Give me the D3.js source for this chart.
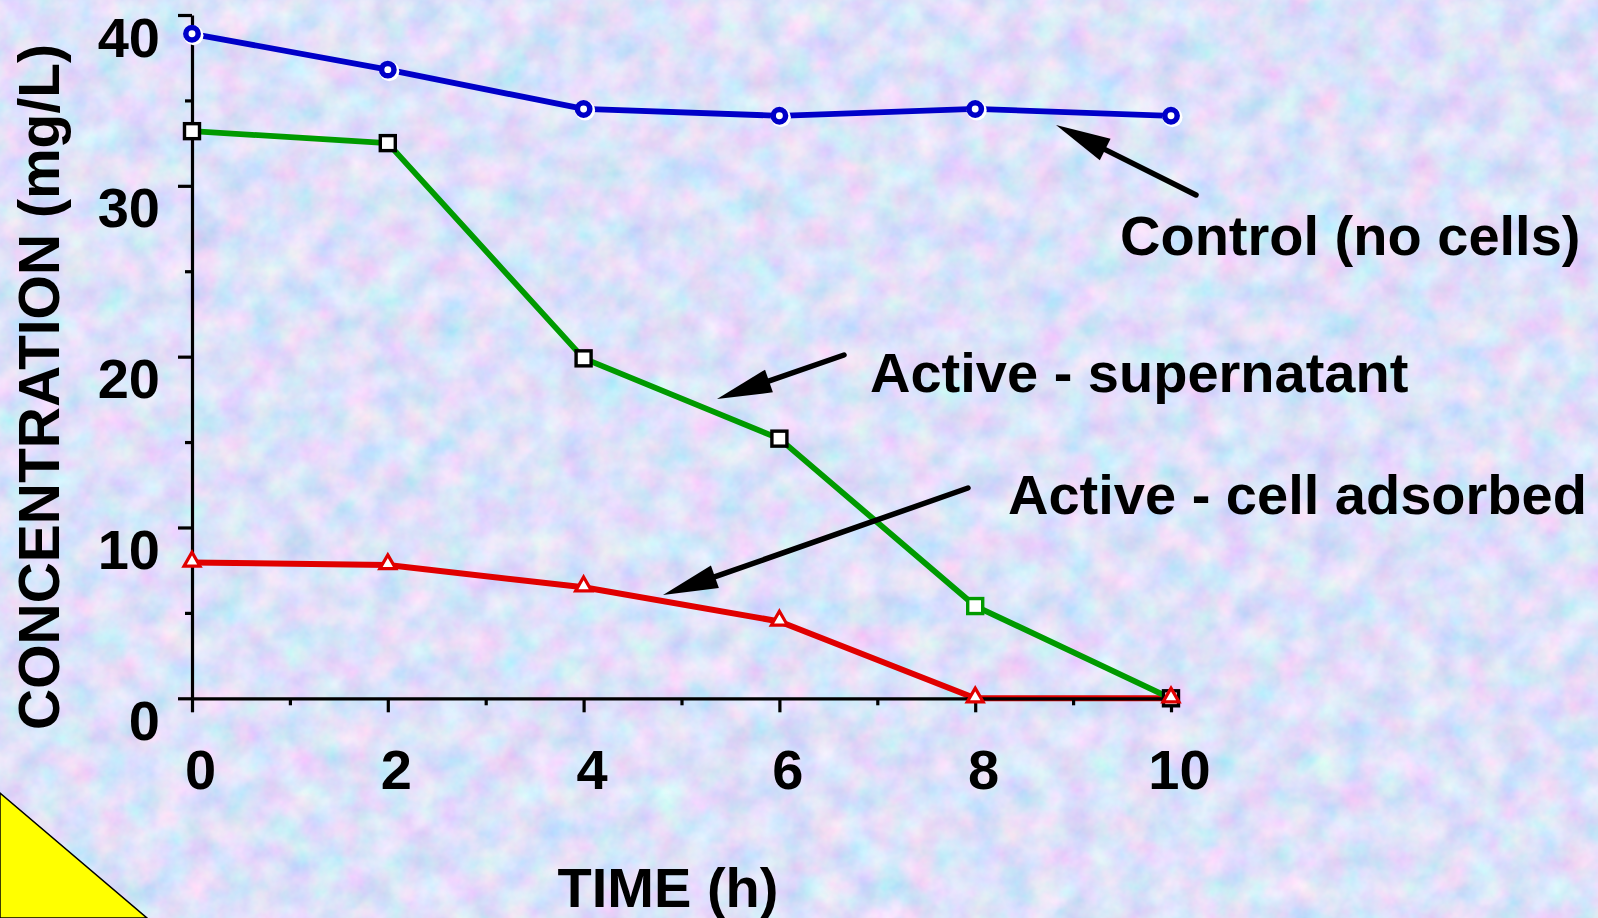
<!DOCTYPE html>
<html>
<head>
<meta charset="utf-8">
<script src="https://cdn.jsdelivr.net/npm/d3@7"></script>
<style>
  html, body { margin: 0; padding: 0; overflow: hidden; }
  svg text { font-family: "Liberation Sans", Arial, sans-serif; font-weight: bold; fill: #000; }
</style>
</head>
<body>
<svg id="chart" width="1598" height="918"></svg>
<script>
// Data
var times = [0, 2, 4, 6, 8, 10];
var control = [38.9, 36.8, 34.5, 34.1, 34.5, 34.1];
var supernatant = [33.2, 32.5, 19.9, 15.2, 5.4, 0];
var adsorbed = [7.95, 7.8, 6.5, 4.5, 0, 0];

var xMajor = [0, 2, 4, 6, 8, 10];
var xMinor = [1, 3, 5, 7, 9];
var yMajor = [0, 10, 20, 30, 40];
var yMinor = [5, 15, 25, 35];

var labels = ["Control (no cells)", "Active - supernatant", "Active - cell adsorbed"];

var svg = d3.select("#chart");

// Background texture
var defs = svg.append("defs");
var tex = defs.append("filter").attr("id", "tex")
    .attr("x", 0).attr("y", 0).attr("width", "100%").attr("height", "100%");
tex.append("feTurbulence")
    .attr("type", "fractalNoise")
    .attr("baseFrequency", 0.032)
    .attr("numOctaves", 4)
    .attr("seed", 7);
tex.append("feColorMatrix")
    .attr("type", "matrix")
    .attr("values", "0.5 -0.25 0 -0.3 0.75  -0.1 0.25 0 -0.3 0.83  0 0 0.2 0 0.85  0 0 0 0 1");

svg.append("rect").attr("width", 1598).attr("height", 918).attr("fill", "#b8c8f0");
svg.append("rect").attr("width", 1598).attr("height", 918).attr("filter", "url(#tex)");

// Yellow corner
svg.append("path")
    .attr("d", "M0,793 L147,918 L0,918 Z")
    .attr("fill", "#ffff00")
    .attr("stroke", "#000")
    .attr("stroke-width", 1.5);

var x = d3.scaleLinear().domain([0, 10]).range([192, 1171]);
var y = d3.scaleLinear().domain([0, 40]).range([698.3, 15]);

// Lines
var line = d3.line()
    .x(function(d, i) { return x(times[i]); })
    .y(function(d) { return y(d); });

svg.append("path").datum(adsorbed)
    .attr("d", line).attr("fill", "none")
    .attr("stroke", "#e00000").attr("stroke-width", 6).attr("stroke-linejoin", "round");

svg.append("path").datum(supernatant)
    .attr("d", line).attr("fill", "none")
    .attr("stroke", "#009a00").attr("stroke-width", 5.8).attr("stroke-linejoin", "round");

svg.append("path").datum(control)
    .attr("d", line).attr("fill", "none")
    .attr("stroke", "#0000c8").attr("stroke-width", 5.8).attr("stroke-linejoin", "round");

// Axes
function styleAxis(g) {
    g.select(".domain").attr("stroke", "#000").attr("stroke-width", 3.2);
    g.selectAll(".tick line").attr("stroke", "#000").attr("stroke-width", 3.2);
}

var yAxis = svg.append("g")
    .attr("transform", "translate(" + x(0) + ",0)")
    .call(d3.axisLeft(y).tickValues(yMajor).tickSize(14).tickSizeOuter(0).tickFormat(d3.format("d")))
    .call(styleAxis);
yAxis.selectAll(".tick text")
    .attr("x", -32).attr("y", 41).attr("dy", null)
    .style("font-size", "56px");

svg.append("g")
    .attr("transform", "translate(" + x(0) + ",0)")
    .call(d3.axisLeft(y).tickValues(yMinor).tickSize(7).tickSizeOuter(0).tickFormat(""))
    .call(styleAxis)
    .select(".domain").remove();

var xAxis = svg.append("g")
    .attr("transform", "translate(0," + y(0) + ")")
    .call(d3.axisBottom(x).tickValues(xMajor).tickSize(14).tickSizeOuter(0).tickFormat(d3.format("d")))
    .call(styleAxis);
xAxis.selectAll(".tick text")
    .attr("x", 8).attr("y", 91).attr("dy", null)
    .style("font-size", "56px");

svg.append("g")
    .attr("transform", "translate(0," + y(0) + ")")
    .call(d3.axisBottom(x).tickValues(xMinor).tickSize(7).tickSizeOuter(0).tickFormat(""))
    .call(styleAxis)
    .select(".domain").remove();

// Axis titles
svg.append("text")
    .attr("transform", "translate(59,387) rotate(-90)")
    .attr("text-anchor", "middle")
    .style("font-size", "57px")
    .text("CONCENTRATION (mg/L)");

svg.append("text")
    .attr("x", 668).attr("y", 907)
    .attr("text-anchor", "middle")
    .style("font-size", "56px")
    .text("TIME (h)");

// Markers: control circles
svg.selectAll(".ctlHalo").data(control).enter().append("circle")
    .attr("class", "ctlHalo")
    .attr("cx", function(d, i) { return x(times[i]) + 1.5; })
    .attr("cy", function(d) { return y(d) + 1.5; })
    .attr("r", 10)
    .attr("fill", "#fff");
svg.selectAll(".ctl").data(control).enter().append("circle")
    .attr("class", "ctl")
    .attr("cx", function(d, i) { return x(times[i]); })
    .attr("cy", function(d) { return y(d); })
    .attr("r", 6.2)
    .attr("fill", "#fff")
    .attr("stroke", "#0000c8")
    .attr("stroke-width", 5.5);

// Markers: supernatant squares
svg.selectAll(".sup").data(supernatant).enter().append("rect")
    .attr("class", "sup")
    .attr("x", function(d, i) { return x(times[i]) - 7.5; })
    .attr("y", function(d) { return y(d) - 7.5; })
    .attr("width", 15).attr("height", 15)
    .attr("fill", "#fff")
    .attr("stroke", function(d, i) { return i === 4 ? "#009a00" : "#000"; })
    .attr("stroke-width", 3.4);

// Markers: adsorbed triangles
var tri = d3.symbol().type(d3.symbolTriangle).size(110);
svg.selectAll(".ads").data(adsorbed).enter().append("path")
    .attr("class", "ads")
    .attr("d", tri)
    .attr("transform", function(d, i) { return "translate(" + x(times[i]) + "," + (y(d) - 1) + ")"; })
    .attr("fill", "#fff")
    .attr("stroke", "#e00000")
    .attr("stroke-width", 3.2);

// Annotation arrows
var arrows = [
    {from: [1196, 195], to: [1056, 125]},
    {from: [844, 355], to: [717, 399]},
    {from: [968, 488], to: [663, 595]}
];

arrows.forEach(function(a) {
    var dx = a.to[0] - a.from[0], dy = a.to[1] - a.from[1];
    var len = Math.sqrt(dx * dx + dy * dy);
    var ux = dx / len, uy = dy / len;
    var headLen = 55, headHalf = 12;
    var bx = a.to[0] - ux * headLen, by = a.to[1] - uy * headLen;
    svg.append("line")
        .attr("x1", a.from[0]).attr("y1", a.from[1])
        .attr("x2", bx + ux * 5).attr("y2", by + uy * 5)
        .attr("stroke", "#000").attr("stroke-width", 5.5).attr("stroke-linecap", "round");
    svg.append("path")
        .attr("d", "M" + a.to[0] + "," + a.to[1] +
            "L" + (bx - uy * headHalf) + "," + (by + ux * headHalf) +
            "L" + (bx + uy * headHalf) + "," + (by - ux * headHalf) + "Z")
        .attr("fill", "#000");
});

// Annotation labels
var labelPos = [[1120, 255], [870, 392], [1008, 514]];
svg.selectAll(".lbl").data(labels).enter().append("text")
    .attr("class", "lbl")
    .attr("x", function(d, i) { return labelPos[i][0]; })
    .attr("y", function(d, i) { return labelPos[i][1]; })
    .style("font-size", "56px")
    .text(function(d) { return d; });
</script>
</body>
</html>
